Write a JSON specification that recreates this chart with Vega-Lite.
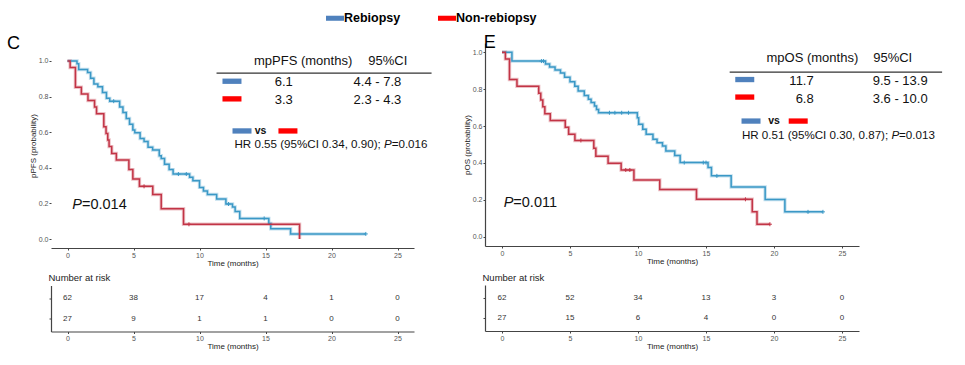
{
  "$schema": "https://vega.github.io/schema/vega-lite/v6.json",
  "background": "white",
  "padding": {"left": 7, "top": 6, "right": 0, "bottom": 0},
  "config": {
    "view": {"stroke": null},
    "font": "Liberation Sans",
    "axis": {
      "grid": false,
      "domainColor": "#444",
      "domainWidth": 1.2,
      "tickColor": "#444",
      "tickSize": 2,
      "labelColor": "#555",
      "labelFontSize": 7,
      "labelPadding": 1,
      "titleFontSize": 8,
      "titleFontWeight": "normal",
      "titleColor": "#222",
      "titlePadding": 1
    }
  },
  "datasets": {
    "kmC": [
      {"g": "Rebiopsy", "t": 0, "p": 1},
      {"g": "Rebiopsy", "t": 0.72, "p": 0.984},
      {"g": "Rebiopsy", "t": 0.85, "p": 0.952},
      {"g": "Rebiopsy", "t": 1.52, "p": 0.935},
      {"g": "Rebiopsy", "t": 1.75, "p": 0.903},
      {"g": "Rebiopsy", "t": 2.0, "p": 0.871},
      {"g": "Rebiopsy", "t": 2.3, "p": 0.855},
      {"g": "Rebiopsy", "t": 2.65, "p": 0.823},
      {"g": "Rebiopsy", "t": 2.95, "p": 0.79},
      {"g": "Rebiopsy", "t": 3.2, "p": 0.774},
      {"g": "Rebiopsy", "t": 3.95, "p": 0.742},
      {"g": "Rebiopsy", "t": 4.2, "p": 0.71},
      {"g": "Rebiopsy", "t": 4.45, "p": 0.677},
      {"g": "Rebiopsy", "t": 4.7, "p": 0.645},
      {"g": "Rebiopsy", "t": 4.95, "p": 0.613},
      {"g": "Rebiopsy", "t": 5.1, "p": 0.597},
      {"g": "Rebiopsy", "t": 5.5, "p": 0.565},
      {"g": "Rebiopsy", "t": 5.8, "p": 0.548},
      {"g": "Rebiopsy", "t": 6.1, "p": 0.516},
      {"g": "Rebiopsy", "t": 6.45, "p": 0.5},
      {"g": "Rebiopsy", "t": 6.95, "p": 0.468},
      {"g": "Rebiopsy", "t": 7.1, "p": 0.452},
      {"g": "Rebiopsy", "t": 7.35, "p": 0.42},
      {"g": "Rebiopsy", "t": 7.7, "p": 0.39},
      {"g": "Rebiopsy", "t": 8.0, "p": 0.365},
      {"g": "Rebiopsy", "t": 9.25, "p": 0.347},
      {"g": "Rebiopsy", "t": 9.5, "p": 0.328},
      {"g": "Rebiopsy", "t": 10.0, "p": 0.29},
      {"g": "Rebiopsy", "t": 10.3, "p": 0.27},
      {"g": "Rebiopsy", "t": 10.6, "p": 0.25},
      {"g": "Rebiopsy", "t": 11.3, "p": 0.225},
      {"g": "Rebiopsy", "t": 12.0, "p": 0.197},
      {"g": "Rebiopsy", "t": 12.5, "p": 0.18},
      {"g": "Rebiopsy", "t": 12.7, "p": 0.155},
      {"g": "Rebiopsy", "t": 13.05, "p": 0.116},
      {"g": "Rebiopsy", "t": 15.25, "p": 0.088},
      {"g": "Rebiopsy", "t": 15.4, "p": 0.058},
      {"g": "Rebiopsy", "t": 16.9, "p": 0.029},
      {"g": "Rebiopsy", "t": 22.6, "p": 0.029},
      {"g": "Non-rebiopsy", "t": 0, "p": 1},
      {"g": "Non-rebiopsy", "t": 0.2, "p": 0.963},
      {"g": "Non-rebiopsy", "t": 0.6, "p": 0.852},
      {"g": "Non-rebiopsy", "t": 1.05, "p": 0.815},
      {"g": "Non-rebiopsy", "t": 1.55, "p": 0.778},
      {"g": "Non-rebiopsy", "t": 2.05, "p": 0.741},
      {"g": "Non-rebiopsy", "t": 2.2, "p": 0.704},
      {"g": "Non-rebiopsy", "t": 2.75, "p": 0.63},
      {"g": "Non-rebiopsy", "t": 2.92, "p": 0.593},
      {"g": "Non-rebiopsy", "t": 3.05, "p": 0.556},
      {"g": "Non-rebiopsy", "t": 3.15, "p": 0.519},
      {"g": "Non-rebiopsy", "t": 3.35, "p": 0.481},
      {"g": "Non-rebiopsy", "t": 3.7, "p": 0.444},
      {"g": "Non-rebiopsy", "t": 4.65, "p": 0.39},
      {"g": "Non-rebiopsy", "t": 4.95, "p": 0.337},
      {"g": "Non-rebiopsy", "t": 5.45, "p": 0.296},
      {"g": "Non-rebiopsy", "t": 6.46, "p": 0.25},
      {"g": "Non-rebiopsy", "t": 7.1, "p": 0.17},
      {"g": "Non-rebiopsy", "t": 8.79, "p": 0.083},
      {"g": "Non-rebiopsy", "t": 17.58, "p": 0}
    ],
    "censC": [
      {"g": "Rebiopsy", "t": 3.5, "p": 0.774},
      {"g": "Rebiopsy", "t": 8.4, "p": 0.365},
      {"g": "Rebiopsy", "t": 9.0, "p": 0.365},
      {"g": "Rebiopsy", "t": 12.2, "p": 0.197},
      {"g": "Rebiopsy", "t": 14.9, "p": 0.116},
      {"g": "Rebiopsy", "t": 22.6, "p": 0.029},
      {"g": "Non-rebiopsy", "t": 5.8, "p": 0.296},
      {"g": "Non-rebiopsy", "t": 9.2, "p": 0.083}
    ],
    "kmE": [
      {"g": "Rebiopsy", "t": 0, "p": 1},
      {"g": "Rebiopsy", "t": 0.73, "p": 0.952},
      {"g": "Rebiopsy", "t": 3.2, "p": 0.936},
      {"g": "Rebiopsy", "t": 3.5, "p": 0.92},
      {"g": "Rebiopsy", "t": 3.9, "p": 0.904},
      {"g": "Rebiopsy", "t": 4.3, "p": 0.888},
      {"g": "Rebiopsy", "t": 4.6, "p": 0.865},
      {"g": "Rebiopsy", "t": 5.0, "p": 0.84},
      {"g": "Rebiopsy", "t": 5.35, "p": 0.815},
      {"g": "Rebiopsy", "t": 5.6, "p": 0.79},
      {"g": "Rebiopsy", "t": 6.05, "p": 0.765},
      {"g": "Rebiopsy", "t": 6.35, "p": 0.745},
      {"g": "Rebiopsy", "t": 6.55, "p": 0.727},
      {"g": "Rebiopsy", "t": 6.8, "p": 0.708},
      {"g": "Rebiopsy", "t": 6.95, "p": 0.69},
      {"g": "Rebiopsy", "t": 7.1, "p": 0.672},
      {"g": "Rebiopsy", "t": 9.95, "p": 0.645},
      {"g": "Rebiopsy", "t": 10.05, "p": 0.61},
      {"g": "Rebiopsy", "t": 10.35, "p": 0.582},
      {"g": "Rebiopsy", "t": 10.6, "p": 0.555},
      {"g": "Rebiopsy", "t": 11.1, "p": 0.528},
      {"g": "Rebiopsy", "t": 11.4, "p": 0.51},
      {"g": "Rebiopsy", "t": 11.8, "p": 0.492},
      {"g": "Rebiopsy", "t": 12.05, "p": 0.465},
      {"g": "Rebiopsy", "t": 12.7, "p": 0.44},
      {"g": "Rebiopsy", "t": 13.1, "p": 0.402},
      {"g": "Rebiopsy", "t": 15.15, "p": 0.375},
      {"g": "Rebiopsy", "t": 15.4, "p": 0.33},
      {"g": "Rebiopsy", "t": 16.85, "p": 0.27},
      {"g": "Rebiopsy", "t": 19.35, "p": 0.202},
      {"g": "Rebiopsy", "t": 20.8, "p": 0.135},
      {"g": "Rebiopsy", "t": 23.6, "p": 0.135},
      {"g": "Non-rebiopsy", "t": 0, "p": 1},
      {"g": "Non-rebiopsy", "t": 0.25, "p": 0.963},
      {"g": "Non-rebiopsy", "t": 0.55, "p": 0.852},
      {"g": "Non-rebiopsy", "t": 1.1, "p": 0.815},
      {"g": "Non-rebiopsy", "t": 2.7, "p": 0.778},
      {"g": "Non-rebiopsy", "t": 2.85, "p": 0.741},
      {"g": "Non-rebiopsy", "t": 3.0, "p": 0.704},
      {"g": "Non-rebiopsy", "t": 3.15, "p": 0.667},
      {"g": "Non-rebiopsy", "t": 3.55, "p": 0.63},
      {"g": "Non-rebiopsy", "t": 4.65, "p": 0.593},
      {"g": "Non-rebiopsy", "t": 4.9, "p": 0.556},
      {"g": "Non-rebiopsy", "t": 5.36, "p": 0.522},
      {"g": "Non-rebiopsy", "t": 6.75, "p": 0.48},
      {"g": "Non-rebiopsy", "t": 6.9, "p": 0.437},
      {"g": "Non-rebiopsy", "t": 7.8, "p": 0.398},
      {"g": "Non-rebiopsy", "t": 8.76, "p": 0.362},
      {"g": "Non-rebiopsy", "t": 9.7, "p": 0.308},
      {"g": "Non-rebiopsy", "t": 11.6, "p": 0.256},
      {"g": "Non-rebiopsy", "t": 14.3, "p": 0.203},
      {"g": "Non-rebiopsy", "t": 18.4, "p": 0.135},
      {"g": "Non-rebiopsy", "t": 18.75, "p": 0.068},
      {"g": "Non-rebiopsy", "t": 19.7, "p": 0.068}
    ],
    "censE": [
      {"g": "Rebiopsy", "t": 2.9, "p": 0.952},
      {"g": "Rebiopsy", "t": 3.05, "p": 0.952},
      {"g": "Rebiopsy", "t": 7.9, "p": 0.672},
      {"g": "Rebiopsy", "t": 8.3, "p": 0.672},
      {"g": "Rebiopsy", "t": 8.8, "p": 0.672},
      {"g": "Rebiopsy", "t": 9.3, "p": 0.672},
      {"g": "Rebiopsy", "t": 13.4, "p": 0.402},
      {"g": "Rebiopsy", "t": 14.8, "p": 0.402},
      {"g": "Rebiopsy", "t": 15.0, "p": 0.402},
      {"g": "Rebiopsy", "t": 15.8, "p": 0.33},
      {"g": "Rebiopsy", "t": 22.5, "p": 0.135},
      {"g": "Rebiopsy", "t": 23.6, "p": 0.135},
      {"g": "Non-rebiopsy", "t": 5.8, "p": 0.522},
      {"g": "Non-rebiopsy", "t": 9.1, "p": 0.362},
      {"g": "Non-rebiopsy", "t": 9.4, "p": 0.362},
      {"g": "Non-rebiopsy", "t": 17.9, "p": 0.203},
      {"g": "Non-rebiopsy", "t": 19.7, "p": 0.068}
    ],
    "riskC": [
      {"g": "Rebiopsy", "t": 0, "n": 62},
      {"g": "Rebiopsy", "t": 5, "n": 38},
      {"g": "Rebiopsy", "t": 10, "n": 17},
      {"g": "Rebiopsy", "t": 15, "n": 4},
      {"g": "Rebiopsy", "t": 20, "n": 1},
      {"g": "Rebiopsy", "t": 25, "n": 0},
      {"g": "Non-rebiopsy", "t": 0, "n": 27},
      {"g": "Non-rebiopsy", "t": 5, "n": 9},
      {"g": "Non-rebiopsy", "t": 10, "n": 1},
      {"g": "Non-rebiopsy", "t": 15, "n": 1},
      {"g": "Non-rebiopsy", "t": 20, "n": 0},
      {"g": "Non-rebiopsy", "t": 25, "n": 0}
    ],
    "riskE": [
      {"g": "Rebiopsy", "t": 0, "n": 62},
      {"g": "Rebiopsy", "t": 5, "n": 52},
      {"g": "Rebiopsy", "t": 10, "n": 34},
      {"g": "Rebiopsy", "t": 15, "n": 13},
      {"g": "Rebiopsy", "t": 20, "n": 3},
      {"g": "Rebiopsy", "t": 25, "n": 0},
      {"g": "Non-rebiopsy", "t": 0, "n": 27},
      {"g": "Non-rebiopsy", "t": 5, "n": 15},
      {"g": "Non-rebiopsy", "t": 10, "n": 6},
      {"g": "Non-rebiopsy", "t": 15, "n": 4},
      {"g": "Non-rebiopsy", "t": 20, "n": 0},
      {"g": "Non-rebiopsy", "t": 25, "n": 0}
    ],
    "groups": [{"g": "Rebiopsy"}, {"g": "Non-rebiopsy"}]
  },
  "spacing": 21,
  "vconcat": [
    {
      "width": 1,
      "height": 1,
      "data": {"name": "groups"},
      "mark": {"type": "point", "filled": true, "opacity": 0},
      "encoding": {
        "fill": {
          "field": "g", "type": "nominal",
          "scale": {"domain": ["Rebiopsy", "Non-rebiopsy"], "range": ["#4F81BD", "#FF0000"]},
          "legend": {
            "orient": "none", "legendX": 275, "legendY": 0,
            "direction": "horizontal", "title": null,
            "symbolType": "M-1,-0.28L1,-0.28L1,0.28L-1,0.28Z",
            "symbolSize": 324, "symbolOpacity": 1, "symbolStrokeWidth": 0,
            "labelFontSize": 12.5, "labelFontWeight": "bold", "labelColor": "#000",
            "labelOffset": 0, "columnPadding": 37
          }
        }
      }
    },
    {
      "spacing": 30,
      "hconcat": [
        {
          "spacing": 5.5,
          "vconcat": [
            {
              "width": 363,
              "height": 205,
              "encoding": {
                "x": {"field": "t", "type": "quantitative", "scale": {"domain": [-1.25, 26.25], "nice": false, "zero": false}, "axis": {"values": [0, 5, 10, 15, 20, 25], "title": "Time (months)"}},
                "y": {"field": "p", "type": "quantitative", "scale": {"domain": [-0.05, 1.1006], "nice": false, "zero": false}, "axis": {"values": [0, 0.2, 0.4, 0.6, 0.8, 1.0], "format": ".1f", "title": "pPFS (probability)", "domain": false}}
              },
              "layer": [
                {"data": {"values": [{}]}, "mark": {"type": "rule", "color": "#444", "strokeWidth": 1.2},
                 "encoding": {"x": {"datum": -1.25}, "y": {"datum": -0.05}, "y2": {"datum": 1.05}}},
                {"data": {"name": "kmC"}, "mark": {"type": "line", "interpolate": "step-after", "strokeWidth": 3.4, "opacity": 0.3},
                 "encoding": {"stroke": {"field": "g", "type": "nominal", "scale": {"domain": ["Rebiopsy", "Non-rebiopsy"], "range": ["#3A98C6", "#C23446"]}, "legend": null}}},
                {"data": {"name": "kmC"}, "mark": {"type": "line", "interpolate": "step-after", "strokeWidth": 1.5},
                 "encoding": {"stroke": {"field": "g", "type": "nominal", "legend": null}}},
                {"data": {"name": "censC"}, "mark": {"type": "point", "shape": "M-1,0L1,0M0,-1L0,1", "size": 16, "strokeWidth": 1, "filled": false, "opacity": 1},
                 "encoding": {"stroke": {"field": "g", "type": "nominal", "legend": null}}},
                {"data": {"values": [{"txt": "mpPFS (months)", "t": 17.85, "p": 1.0}, {"txt": "95%CI", "t": 24.27, "p": 1.0}]},
                 "mark": {"type": "text", "fontSize": 13, "align": "center", "baseline": "middle", "color": "#111"},
                 "encoding": {"text": {"field": "txt"}}},
                {"data": {"values": [{"t": 11.29, "t2": 27.58, "p": 0.931}]},
                 "mark": {"type": "rule", "strokeWidth": 1.3, "color": "#333"},
                 "encoding": {"x2": {"field": "t2"}}},
                {"data": {"values": [{"txt": "6.1", "t": 17.07, "p": 0.882}, {"txt": "3.3", "t": 17.07, "p": 0.782}]},
                 "mark": {"type": "text", "fontSize": 13, "align": "right", "baseline": "middle", "color": "#111"},
                 "encoding": {"text": {"field": "txt"}}},
                {"data": {"values": [{"txt": "4.4 - 7.8", "t": 21.67, "p": 0.882}, {"txt": "2.3 - 4.3", "t": 21.67, "p": 0.782}]},
                 "mark": {"type": "text", "fontSize": 13, "align": "left", "baseline": "middle", "color": "#111"},
                 "encoding": {"text": {"field": "txt"}}},
                {"data": {"values": [{"g": "Rebiopsy", "t": 12.46, "p": 0.886}, {"g": "Non-rebiopsy", "t": 12.46, "p": 0.787}, {"g": "Rebiopsy", "t": 13.22, "p": 0.607}, {"g": "Non-rebiopsy", "t": 16.7, "p": 0.607}]},
                 "mark": {"type": "point", "filled": true, "shape": "M-1,-0.28L1,-0.28L1,0.28L-1,0.28Z", "size": 361, "opacity": 1, "strokeWidth": 0},
                 "encoding": {"fill": {"field": "g", "type": "nominal", "scale": {"domain": ["Rebiopsy", "Non-rebiopsy"], "range": ["#4F81BD", "#FF0000"]}, "legend": null}}},
                {"data": {"values": [{"txt": "vs", "t": 14.62, "p": 0.607}]},
                 "mark": {"type": "text", "fontSize": 10.5, "fontWeight": "bold", "align": "center", "baseline": "middle", "color": "#111"},
                 "encoding": {"text": {"field": "txt"}}},
                {"data": {"values": [{"a": "HR 0.55 (95%CI 0.34, 0.90);", "b": "P", "c": "=0.016", "t": 12.65, "p": 0.528}]},
                 "layer": [
                   {"mark": {"type": "text", "fontSize": 11.6, "align": "left", "baseline": "middle", "color": "#111"}, "encoding": {"text": {"field": "a"}}},
                   {"mark": {"type": "text", "fontSize": 11.6, "align": "left", "baseline": "middle", "color": "#111", "fontStyle": "italic", "dx": 149.5}, "encoding": {"text": {"field": "b"}}},
                   {"mark": {"type": "text", "fontSize": 11.6, "align": "left", "baseline": "middle", "color": "#111", "dx": 157.2}, "encoding": {"text": {"field": "c"}}}
                 ]},
                {"data": {"values": [{"b": "P", "c": "=0.014", "t": 0.36, "p": 0.191}]},
                 "layer": [
                   {"mark": {"type": "text", "fontSize": 14.5, "align": "left", "baseline": "middle", "color": "#111", "fontStyle": "italic"}, "encoding": {"text": {"field": "b"}}},
                   {"mark": {"type": "text", "fontSize": 14.5, "align": "left", "baseline": "middle", "color": "#111", "dx": 9.7}, "encoding": {"text": {"field": "c"}}}
                 ]},
                {"data": {"values": [{"txt": "C", "t": -4.09, "p": 1.095}]},
                 "mark": {"type": "text", "fontSize": 18, "align": "center", "baseline": "middle", "color": "#000"},
                 "encoding": {"text": {"field": "txt"}}}
              ]
            },
            {
              "width": 363,
              "height": 46,
              "title": {"text": "Number at risk", "anchor": "start", "fontSize": 9.5, "fontWeight": "normal", "color": "#222", "offset": 3},
              "encoding": {
                "x": {"field": "t", "type": "quantitative", "scale": {"domain": [-1.25, 26.25], "nice": false, "zero": false}, "axis": {"values": [0, 5, 10, 15, 20, 25], "title": "Time (months)"}},
                "y": {"field": "g", "type": "nominal", "scale": {"domain": ["Rebiopsy", "Non-rebiopsy"], "padding": 0.62}, "axis": {"labels": false, "ticks": true, "title": null}}
              },
              "layer": [
                {"data": {"name": "riskC"}, "mark": {"type": "text", "fontSize": 8, "color": "#333", "baseline": "middle"}, "encoding": {"text": {"field": "n"}}},
                {"data": {"name": "groups"}, "mark": {"type": "point", "filled": true, "shape": "M-1,-0.3L1,-0.3L1,0.3L-1,0.3Z", "size": 361, "opacity": 1, "strokeWidth": 0},
                 "encoding": {"x": {"datum": -2.23}, "fill": {"field": "g", "type": "nominal", "scale": {"domain": ["Rebiopsy", "Non-rebiopsy"], "range": ["#4F81BD", "#FF0000"]}, "legend": null}}}
              ]
            }
          ]
        },
        {
          "spacing": 7,
          "vconcat": [
            {
              "width": 374,
              "height": 203,
              "encoding": {
                "x": {"field": "t", "type": "quantitative", "scale": {"domain": [-1.25, 26.25], "nice": false, "zero": false}, "axis": {"values": [0, 5, 10, 15, 20, 25], "title": "Time (months)"}},
                "y": {"field": "p", "type": "quantitative", "scale": {"domain": [-0.05, 1.05], "nice": false, "zero": false}, "axis": {"values": [0, 0.2, 0.4, 0.6, 0.8, 1.0], "format": ".1f", "title": "pOS (probability)"}}
              },
              "layer": [
                {"data": {"name": "kmE"}, "mark": {"type": "line", "interpolate": "step-after", "strokeWidth": 3.4, "opacity": 0.3},
                 "encoding": {"stroke": {"field": "g", "type": "nominal", "scale": {"domain": ["Rebiopsy", "Non-rebiopsy"], "range": ["#3A98C6", "#C23446"]}, "legend": null}}},
                {"data": {"name": "kmE"}, "mark": {"type": "line", "interpolate": "step-after", "strokeWidth": 1.5},
                 "encoding": {"stroke": {"field": "g", "type": "nominal", "legend": null}}},
                {"data": {"name": "censE"}, "mark": {"type": "point", "shape": "M-1,0L1,0M0,-1L0,1", "size": 16, "strokeWidth": 1, "filled": false, "opacity": 1},
                 "encoding": {"stroke": {"field": "g", "type": "nominal", "legend": null}}},
                {"data": {"values": [{"txt": "mpOS (months)", "t": 22.82, "p": 0.97}, {"txt": "95%CI", "t": 28.73, "p": 0.97}]},
                 "mark": {"type": "text", "fontSize": 13, "align": "center", "baseline": "middle", "color": "#111"},
                 "encoding": {"text": {"field": "txt"}}},
                {"data": {"values": [{"t": 16.74, "t2": 32.36, "p": 0.892}]},
                 "mark": {"type": "rule", "strokeWidth": 1.3, "color": "#333"},
                 "encoding": {"x2": {"field": "t2"}}},
                {"data": {"values": [{"txt": "11.7", "t": 22.92, "p": 0.843}, {"txt": "6.8", "t": 22.92, "p": 0.748}]},
                 "mark": {"type": "text", "fontSize": 13, "align": "right", "baseline": "middle", "color": "#111"},
                 "encoding": {"text": {"field": "txt"}}},
                {"data": {"values": [{"txt": "9.5 - 13.9", "t": 27.26, "p": 0.843}, {"txt": "3.6 - 10.0", "t": 27.26, "p": 0.748}]},
                 "mark": {"type": "text", "fontSize": 13, "align": "left", "baseline": "middle", "color": "#111"},
                 "encoding": {"text": {"field": "txt"}}},
                {"data": {"values": [{"g": "Rebiopsy", "t": 17.85, "p": 0.852}, {"g": "Non-rebiopsy", "t": 17.85, "p": 0.757}, {"g": "Rebiopsy", "t": 18.31, "p": 0.627}, {"g": "Non-rebiopsy", "t": 21.78, "p": 0.627}]},
                 "mark": {"type": "point", "filled": true, "shape": "M-1,-0.28L1,-0.28L1,0.28L-1,0.28Z", "size": 361, "opacity": 1, "strokeWidth": 0},
                 "encoding": {"fill": {"field": "g", "type": "nominal", "scale": {"domain": ["Rebiopsy", "Non-rebiopsy"], "range": ["#4F81BD", "#FF0000"]}, "legend": null}}},
                {"data": {"values": [{"txt": "vs", "t": 20.0, "p": 0.627}]},
                 "mark": {"type": "text", "fontSize": 10.5, "fontWeight": "bold", "align": "center", "baseline": "middle", "color": "#111"},
                 "encoding": {"text": {"field": "txt"}}},
                {"data": {"values": [{"a": "HR 0.51 (95%CI 0.30, 0.87);", "b": "P", "c": "=0.013", "t": 17.64, "p": 0.546}]},
                 "layer": [
                   {"mark": {"type": "text", "fontSize": 11.6, "align": "left", "baseline": "middle", "color": "#111"}, "encoding": {"text": {"field": "a"}}},
                   {"mark": {"type": "text", "fontSize": 11.6, "align": "left", "baseline": "middle", "color": "#111", "fontStyle": "italic", "dx": 149.5}, "encoding": {"text": {"field": "b"}}},
                   {"mark": {"type": "text", "fontSize": 11.6, "align": "left", "baseline": "middle", "color": "#111", "dx": 157.2}, "encoding": {"text": {"field": "c"}}}
                 ]},
                {"data": {"values": [{"b": "P", "c": "=0.011", "t": 0.12, "p": 0.182}]},
                 "layer": [
                   {"mark": {"type": "text", "fontSize": 14.5, "align": "left", "baseline": "middle", "color": "#111", "fontStyle": "italic"}, "encoding": {"text": {"field": "b"}}},
                   {"mark": {"type": "text", "fontSize": 14.5, "align": "left", "baseline": "middle", "color": "#111", "dx": 9.7}, "encoding": {"text": {"field": "c"}}}
                 ]},
                {"data": {"values": [{"txt": "E", "t": -0.9, "p": 1.05}]},
                 "mark": {"type": "text", "fontSize": 18, "align": "center", "baseline": "middle", "color": "#000"},
                 "encoding": {"text": {"field": "txt"}}}
              ]
            },
            {
              "width": 374,
              "height": 46,
              "title": {"text": "Number at risk", "anchor": "start", "fontSize": 9.5, "fontWeight": "normal", "color": "#222", "offset": 3},
              "encoding": {
                "x": {"field": "t", "type": "quantitative", "scale": {"domain": [-1.25, 26.25], "nice": false, "zero": false}, "axis": {"values": [0, 5, 10, 15, 20, 25], "title": "Time (months)"}},
                "y": {"field": "g", "type": "nominal", "scale": {"domain": ["Rebiopsy", "Non-rebiopsy"], "padding": 0.62}, "axis": {"labels": false, "ticks": true, "title": null}}
              },
              "layer": [
                {"data": {"name": "riskE"}, "mark": {"type": "text", "fontSize": 8, "color": "#333", "baseline": "middle"}, "encoding": {"text": {"field": "n"}}},
                {"data": {"name": "groups"}, "mark": {"type": "point", "filled": true, "shape": "M-1,-0.3L1,-0.3L1,0.3L-1,0.3Z", "size": 361, "opacity": 1, "strokeWidth": 0},
                 "encoding": {"x": {"datum": -2.32}, "fill": {"field": "g", "type": "nominal", "scale": {"domain": ["Rebiopsy", "Non-rebiopsy"], "range": ["#4F81BD", "#FF0000"]}, "legend": null}}}
              ]
            }
          ]
        }
      ]
    }
  ]
}
